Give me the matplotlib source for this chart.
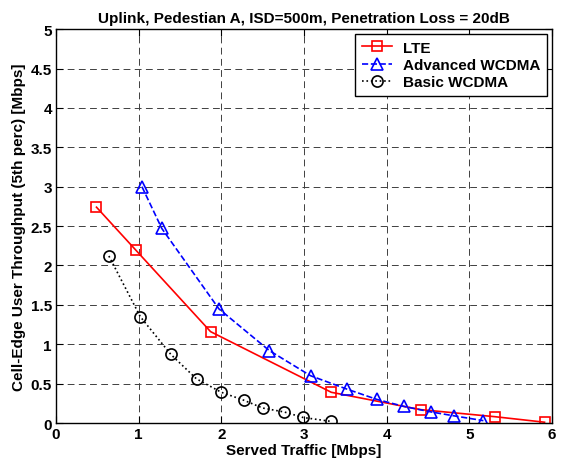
import matplotlib
matplotlib.use('Agg')
import matplotlib.pyplot as plt

plt.rcParams['font.family'] = ['Liberation Sans', 'DejaVu Sans']
plt.rcParams['font.weight'] = 'bold'

# served traffic [Mbps] vs cell-edge throughput [Mbps]
lte_x = [0.49, 0.97, 1.87, 3.33, 4.41, 5.31, 5.91]
lte_y = [2.74, 2.19, 1.16, 0.39, 0.17, 0.08, 0.01]

adv_x = [1.04, 1.28, 1.97, 2.58, 3.08, 3.52, 3.88, 4.21, 4.54, 4.82, 5.17]
adv_y = [3.00, 2.47, 1.45, 0.92, 0.60, 0.43, 0.30, 0.21, 0.14, 0.09, 0.03]

basic_x = [0.64, 1.02, 1.39, 1.70, 2.00, 2.27, 2.50, 2.76, 2.99, 3.33]
basic_y = [2.12, 1.35, 0.87, 0.56, 0.39, 0.29, 0.19, 0.14, 0.07, 0.02]

fig = plt.figure(figsize=(5.62, 4.64), dpi=100)
ax = fig.add_axes([0.0996, 0.0862, 0.8826, 0.8488])

ax.plot(lte_x, lte_y, '-s', color='red', lw=1.2, ms=7, mfc='none', mew=1.2, label='LTE')
ax.plot(adv_x, adv_y, '--^', color='blue', lw=1.2, ms=8, mfc='none', mew=1.2, label='Advanced WCDMA')
ax.plot(basic_x, basic_y, ':o', color='black', lw=1.2, ms=8, mfc='none', mew=1.2, label='Basic WCDMA')

ax.set_xlim(0, 6)
ax.set_ylim(0, 5)
ax.set_xticks(range(0, 7))
ax.set_yticks([0, 0.5, 1, 1.5, 2, 2.5, 3, 3.5, 4, 4.5, 5])
ax.set_yticklabels(['0', '0.5', '1', '1.5', '2', '2.5', '3', '3.5', '4', '4.5', '5'])
ax.tick_params(direction='in', top=True, right=True, labelsize=11, length=5, pad=3)
ax.grid(True, color='#404040', linestyle=(0, (7, 4.5)), lw=0.7)
for s in ax.spines.values():
    s.set_linewidth(1.0)

ax.set_title('Uplink, Pedestian A, ISD=500m, Penetration Loss = 20dB', fontsize=11, fontweight='bold', pad=5)
ax.set_xlabel('Served Traffic [Mbps]', fontsize=11, fontweight='bold', labelpad=1)
ax.set_ylabel('Cell-Edge User Throughput (5th perc) [Mbps]', fontsize=11, fontweight='bold', labelpad=3)

leg = ax.legend(loc='upper right', fancybox=False, edgecolor='black', framealpha=1,
                borderaxespad=0.3, handlelength=2.0, handletextpad=0.7, labelspacing=0.22,
                borderpad=0.45, prop={'weight': 'bold', 'size': 11})
leg.get_frame().set_linewidth(1.0)

fig.savefig('out.png', dpi=100)
